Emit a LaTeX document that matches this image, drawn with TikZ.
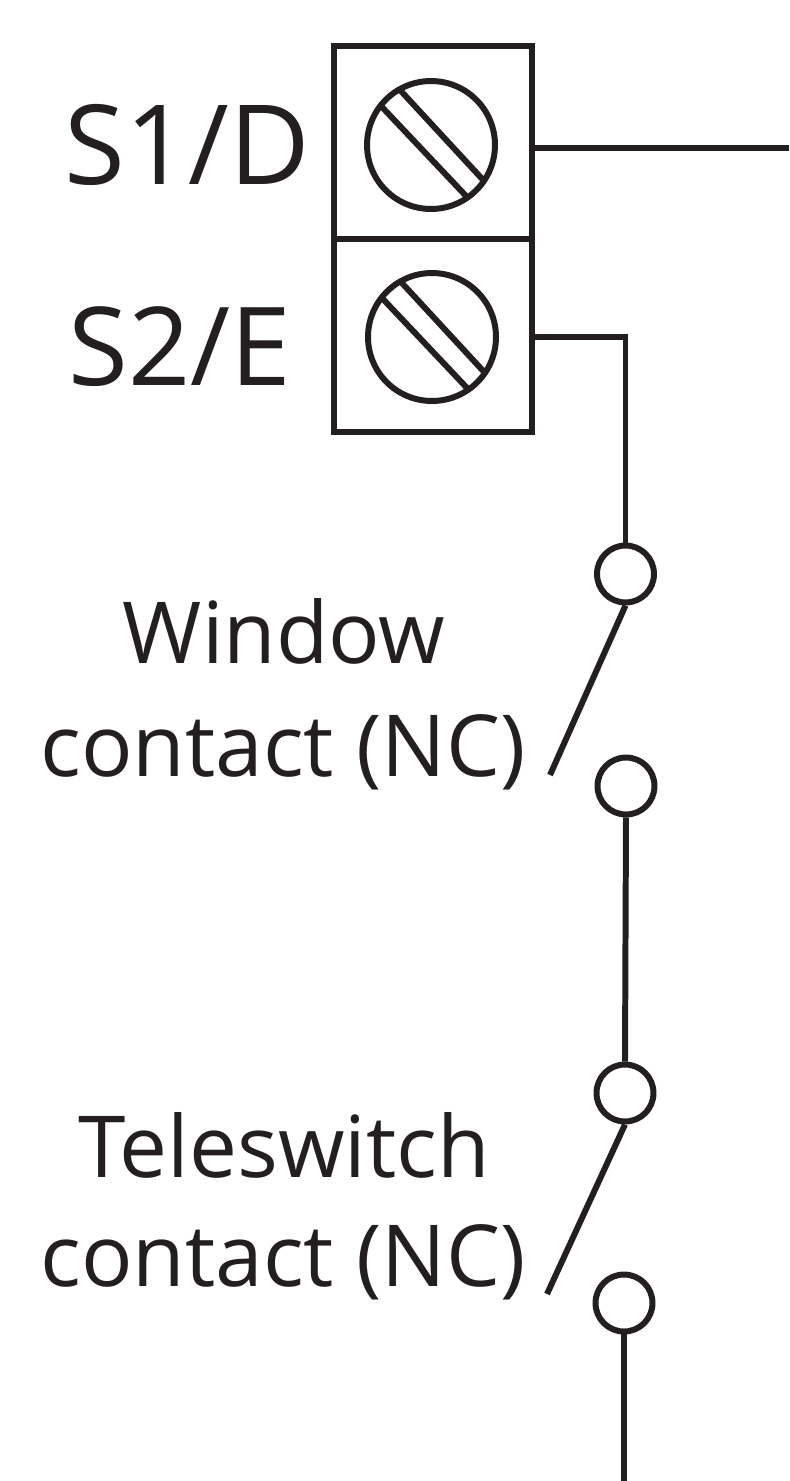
\documentclass[tikz,border=0pt]{standalone}
\usepackage{fontspec}
\setmainfont{Open Sans}
\usepackage{xcolor}
\definecolor{inkgrey}{RGB}{35,31,32}
\tikzset{
  wire/.style={draw=inkgrey, line width=3.4pt},
  terminal/.style={draw=inkgrey, line width=3.4pt, rectangle, inner sep=0pt, minimum width=3.96cm, minimum height=3.86cm},
  screw/.style={draw=inkgrey, line width=3.4pt, circle, inner sep=0pt, minimum size=2.56cm},
  contact/.style={draw=inkgrey, line width=3.4pt, circle, fill=white, inner sep=0pt, minimum size=1.14cm},
  bigtext/.style={text=inkgrey, inner sep=0pt},
  smalltext/.style={text=inkgrey, font=\fontsize{48.7}{50}\selectfont, inner sep=0pt}
}
\begin{document}
\begin{tikzpicture}[x=0.02cm, y=-0.02cm]
\useasboundingbox (0,0) rectangle (789,1481);
% terminal block
\node[terminal] (termD) at (433,142.5) {};
\node[terminal] (termE) at (433,335.5) {};
\node[screw] (screwD) at (431,145) {};
\node[screw] (screwE) at (432,337) {};
\foreach \scr in {screwD,screwE}{
  \draw[wire] ([shift={(-50,-39)}]\scr.center) -- ([shift={(36,52)}]\scr.center);
  \draw[wire] ([shift={(-31,-55)}]\scr.center) -- ([shift={(54,37)}]\scr.center);
}
\node[bigtext, font=\fontsize{63}{65}\selectfont] (labelD) at (187,145) {S1/D};
\node[bigtext, font=\fontsize{62}{64}\selectfont] (labelE) at (180,347) {S2/E};
% contacts
\node[contact] (winTop) at (625.5,574) {};
\node[contact] (winBot) at (626,786) {};
\node[contact] (telTop) at (625,1093) {};
\node[contact] (telBot) at (624,1303) {};
\coordinate (outD) at (789,148);
\coordinate (winEnd) at (550,775);
\coordinate (telEnd) at (547,1294);
\coordinate (outE) at (624,1481);
\coordinate (bendE) at (625.5,337);
% wiring
\draw[wire] (termD.east |- outD) -- (outD);
\draw[wire] (termE.east |- bendE) -- (bendE) -- (winTop.north);
\draw[wire] (winTop.south) -- (winEnd);
\draw[wire] (winBot.south) -- (telTop.north);
\draw[wire] (telTop.south) -- (telEnd);
\draw[wire] (telBot.south) -- (outE);
% labels
\node[smalltext] (winA) at (284,631) {Window};
\node[smalltext] (winB) at (283,752) {contact (NC)};
\node[smalltext] (telA) at (284,1145) {Teleswitch};
\node[smalltext] (telB) at (283,1262) {contact (NC)};
\end{tikzpicture}
\end{document}
